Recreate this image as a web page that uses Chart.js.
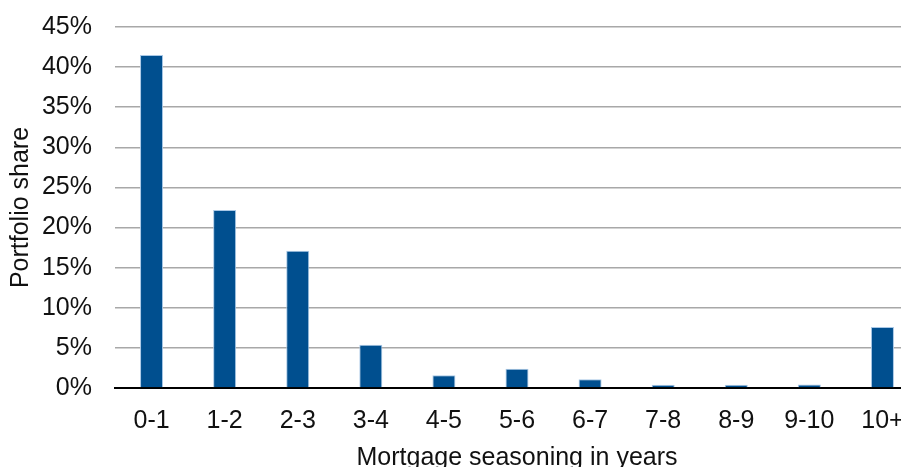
<!DOCTYPE html>
<html>
<head>
<meta charset="utf-8">
<script src="https://cdn.jsdelivr.net/npm/chart.js@4"></script>
<style>
html, body { margin: 0; padding: 0; overflow: hidden; background: #fff; }
#wrap { width: 919px; height: 491px; position: absolute; left: 0; top: -11px; }
</style>
</head>
<body>
<div id="wrap"><canvas id="seasoning"></canvas></div>
<script>
const categorias = ['0-1', '1-2', '2-3', '3-4', '4-5', '5-6', '6-7', '7-8', '8-9', '9-10', '10+']
const share = [41.5, 22.2, 17.1, 5.4, 1.6, 2.4, 1.1, 0.4, 0.4, 0.45, 7.6]
const yTicks = [0, 5, 10, 15, 20, 25, 30, 35, 40, 45]

Chart.defaults.font.family = '"Liberation Sans", Arial, sans-serif'
Chart.defaults.font.size = 25
Chart.defaults.color = '#111111'

const data = {
    labels: categorias,
    datasets: [{
        label: 'Portfolio share',
        data: share,
        backgroundColor: '#004f8f',
        borderColor: '#a9c8e6',
        borderWidth: 1,
        borderSkipped: 'bottom',
        barPercentage: 0.315,
        categoryPercentage: 1
    }]
}

const config = {
    type: 'bar',
    data: data,
    options: {
        responsive: true,
        maintainAspectRatio: false,
        animation: false,
        layout: { padding: { top: 11, right: 0, bottom: 0, left: 0 } },
        plugins: {
            legend: { display: false },
            tooltip: { enabled: false }
        },
        scales: {
            x: {
                grid: { display: false },
                border: { display: true, color: '#000000', width: 2 },
                ticks: { padding: 10 },
                title: {
                    display: true,
                    text: 'Mortgage seasoning in years',
                    padding: { top: 0, bottom: 7 }
                },
                afterFit: function (scale) { scale.height = 92 }
            },
            y: {
                min: 0,
                max: 45,
                afterBuildTicks: function (scale) {
                    scale.ticks = yTicks.map(v => ({ value: v }))
                },
                grid: { color: '#a8a8a8', lineWidth: 1.5, drawTicks: false },
                border: { display: false },
                ticks: {
                    padding: 23,
                    callback: function (v) { return v + '%' }
                },
                title: {
                    display: true,
                    text: 'Portfolio share',
                    padding: { top: 6, bottom: 0 }
                },
                afterFit: function (scale) { scale.width = 115 }
            }
        }
    }
}

const barChart = new Chart(document.getElementById('seasoning'), config)
</script>
</body>
</html>
